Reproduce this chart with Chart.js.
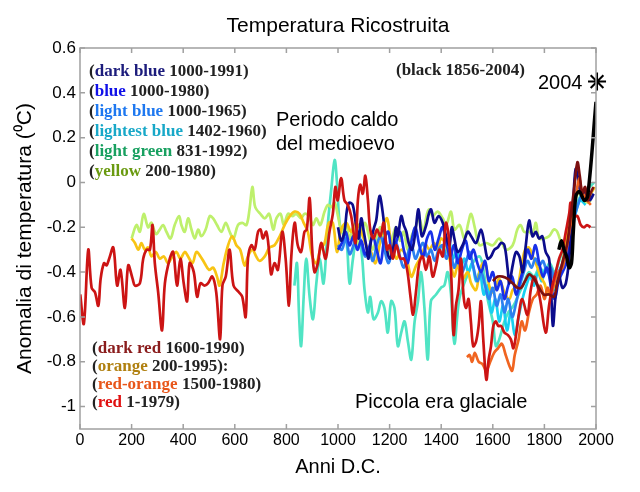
<!DOCTYPE html>
<html>
<head>
<meta charset="utf-8">
<title>Temperatura Ricostruita</title>
<script src="https://cdn.jsdelivr.net/npm/chart.js@4"></script>
<style>
  body { margin: 0; background: #fff; }
  #wrap { position: relative; width: 640px; height: 492px; }
  .lg { position: absolute; font: bold 17px "Liberation Serif", "Times New Roman", serif; color: #222; white-space: nowrap; line-height: 18px; }
  .note { position: absolute; font: 20px "Liberation Sans", Arial, sans-serif; color: #000; white-space: nowrap; line-height: 24px; }
  #title { position: absolute; left: 0; top: 13px; width: 676px; text-align: center; font: 21px "Liberation Sans", Arial, sans-serif; line-height: 24px; }
</style>
</head>
<body>
<div id="wrap">
  <canvas id="chart" width="640" height="492"></canvas>
  <div id="title">Temperatura Ricostruita</div>
</div>
<script>
// x ticks (years) and y ticks (anomaly)
const xTicks = [0, 200, 400, 600, 800, 1000, 1200, 1400, 1600, 1800, 2000];
const yTicks = [-1, -0.8, -0.6, -0.4, -0.2, 0, 0.2, 0.4, 0.6];

// [year, anomaly]
const red = [[1,-0.50],[15,-0.63],[32,-0.30],[45,-0.47],[58,-0.49],[71,-0.55],[80,-0.43],[93,-0.36],[103,-0.37],[113,-0.34],[129,-0.29],[144,-0.46],[157,-0.39],[174,-0.56],[187,-0.37],[204,-0.43],[213,-0.46],[232,-0.45],[245,-0.34],[258,-0.30],[271,-0.30],[281,-0.19],[290,-0.36],[303,-0.49],[318,-0.66],[329,-0.45],[348,-0.34],[361,-0.31],[376,-0.46],[389,-0.34],[402,-0.45],[415,-0.53],[425,-0.36],[441,-0.40],[454,-0.51],[467,-0.45],[483,-0.46],[496,-0.45],[513,-0.42],[528,-0.49],[543,-0.70],[552,-0.46],[565,-0.42],[580,-0.30],[595,-0.46],[616,-0.49],[629,-0.51],[642,-0.60],[651,-0.34],[664,-0.28],[677,-0.30],[690,-0.22],[700,-0.21],[709,-0.25],[722,-0.22],[733,-0.31],[741,-0.41],[754,-0.36],[767,-0.39],[784,-0.22],[797,-0.34],[810,-0.55],[819,-0.33],[832,-0.18],[844,-0.28],[857,-0.31],[870,-0.22],[879,-0.21],[890,-0.07],[900,-0.30],[909,-0.40],[922,-0.36],[935,-0.27],[952,-0.34],[967,-0.22],[980,-0.14],[990,-0.02],[999,-0.08],[1012,0.02],[1025,-0.08],[1038,-0.10],[1051,-0.15],[1068,-0.27],[1077,-0.08],[1086,-0.01],[1096,-0.05],[1106,0.03],[1116,-0.08],[1125,-0.21],[1138,-0.25],[1151,-0.21],[1164,-0.24],[1177,-0.18],[1190,-0.30],[1200,-0.28],[1213,-0.34],[1226,-0.28],[1242,-0.34],[1255,-0.34],[1268,-0.39],[1281,-0.51],[1291,-0.59],[1302,-0.49],[1315,-0.36],[1328,-0.33],[1341,-0.39],[1354,-0.33],[1367,-0.42],[1380,-0.37],[1393,-0.30],[1406,-0.33],[1418,-0.18],[1429,-0.24],[1439,-0.42],[1448,-0.68],[1457,-0.55],[1467,-0.48],[1477,-0.34],[1487,-0.51],[1496,-0.56],[1506,-0.52],[1515,-0.62],[1524,-0.73],[1535,-0.71],[1545,-0.64],[1554,-0.53],[1563,-0.70],[1575,-0.88],[1584,-0.79],[1593,-0.73],[1602,-0.64],[1612,-0.62],[1621,-0.64],[1632,-0.64],[1645,-0.67],[1658,-0.68],[1670,-0.70],[1680,-0.74],[1690,-0.68],[1702,-0.58],[1714,-0.52],[1734,-0.59],[1747,-0.48],[1760,-0.42],[1773,-0.46],[1786,-0.54],[1805,-0.67],[1818,-0.55],[1831,-0.46],[1844,-0.40],[1857,-0.34],[1870,-0.30],[1883,-0.22],[1896,-0.14],[1902,-0.09],[1915,-0.15],[1928,-0.15],[1941,-0.19],[1954,-0.20],[1965,-0.19],[1979,-0.20]];

const darkRed = [[1600,-0.44],[1619,-0.42],[1638,-0.42],[1658,-0.43],[1677,-0.45],[1696,-0.47],[1710,-0.47],[1725,-0.44],[1741,-0.41],[1760,-0.43],[1779,-0.47],[1798,-0.50],[1818,-0.50],[1837,-0.51],[1850,-0.45],[1863,-0.39],[1876,-0.33],[1889,-0.27],[1902,-0.15],[1915,-0.03],[1928,0.09],[1937,0.03],[1947,-0.05],[1958,-0.02],[1967,-0.08],[1978,-0.05],[1990,-0.02]];

const redOrange = [[1500,-0.78],[1510,-0.77],[1520,-0.80],[1530,-0.76],[1545,-0.80],[1560,-0.81],[1575,-0.84],[1590,-0.80],[1605,-0.76],[1620,-0.74],[1635,-0.72],[1650,-0.77],[1665,-0.82],[1675,-0.84],[1685,-0.77],[1700,-0.70],[1712,-0.62],[1725,-0.66],[1740,-0.58],[1755,-0.52],[1770,-0.50],[1785,-0.46],[1800,-0.52],[1812,-0.47],[1825,-0.50],[1840,-0.44],[1855,-0.40],[1870,-0.38],[1885,-0.30],[1900,-0.20],[1912,-0.12],[1925,-0.04],[1935,0.02],[1945,-0.04],[1955,-0.06],[1965,-0.08],[1980,-0.10]];

const orange = [[200,-0.25],[213,-0.27],[226,-0.30],[238,-0.27],[251,-0.30],[264,-0.29],[277,-0.33],[294,-0.31],[309,-0.34],[325,-0.33],[341,-0.36],[358,-0.33],[374,-0.31],[389,-0.34],[406,-0.31],[419,-0.33],[436,-0.36],[451,-0.31],[467,-0.33],[483,-0.36],[500,-0.39],[516,-0.38],[531,-0.42],[541,-0.46],[557,-0.36],[574,-0.28],[590,-0.24],[606,-0.28],[621,-0.30],[638,-0.37],[651,-0.33],[668,-0.30],[683,-0.33],[696,-0.35],[716,-0.33],[735,-0.29],[754,-0.28],[774,-0.24],[793,-0.19],[813,-0.15],[832,-0.13],[851,-0.14],[867,-0.18],[883,-0.22],[900,-0.33],[916,-0.36],[931,-0.30],[948,-0.27],[964,-0.18],[980,-0.18],[996,-0.31],[1012,-0.21],[1032,-0.18],[1051,-0.22],[1070,-0.18],[1090,-0.22],[1109,-0.28],[1128,-0.31],[1145,-0.36],[1161,-0.28],[1174,-0.21],[1190,-0.16],[1206,-0.27],[1226,-0.34],[1245,-0.30],[1264,-0.33],[1284,-0.42],[1303,-0.37],[1322,-0.33],[1341,-0.28],[1354,-0.30],[1373,-0.27],[1386,-0.30],[1399,-0.25],[1419,-0.28],[1438,-0.37],[1451,-0.42],[1464,-0.37],[1483,-0.43],[1503,-0.40],[1516,-0.45],[1535,-0.48],[1548,-0.40],[1561,-0.36],[1573,-0.37],[1586,-0.46],[1600,-0.49],[1612,-0.46],[1625,-0.43],[1645,-0.49],[1664,-0.52],[1677,-0.48],[1696,-0.46],[1710,-0.38],[1725,-0.30],[1740,-0.29],[1755,-0.33],[1770,-0.37],[1785,-0.42],[1800,-0.45],[1815,-0.50],[1830,-0.48],[1845,-0.44],[1860,-0.40],[1875,-0.33],[1890,-0.22],[1905,-0.12],[1920,-0.06],[1935,-0.02],[1950,-0.06],[1965,-0.08],[1980,-0.05],[1995,-0.02]];

const yellow = [[200,-0.25],[219,-0.19],[232,-0.22],[247,-0.14],[264,-0.20],[277,-0.18],[294,-0.23],[309,-0.21],[322,-0.19],[335,-0.22],[351,-0.25],[367,-0.19],[384,-0.15],[393,-0.19],[406,-0.22],[419,-0.16],[432,-0.21],[445,-0.25],[458,-0.21],[470,-0.24],[487,-0.21],[503,-0.15],[516,-0.16],[531,-0.19],[548,-0.22],[565,-0.18],[580,-0.22],[595,-0.25],[612,-0.19],[629,-0.18],[645,-0.19],[657,-0.12],[668,-0.02],[677,-0.10],[684,-0.12],[699,-0.14],[716,-0.16],[733,-0.14],[749,-0.21],[761,-0.16],[777,-0.14],[790,-0.19],[806,-0.14],[823,-0.15],[838,-0.14],[857,-0.16],[870,-0.14],[887,-0.15],[903,-0.19],[916,-0.16],[931,-0.19],[948,-0.13],[961,-0.10],[974,-0.11],[987,-0.09],[1000,-0.15],[1015,-0.22],[1030,-0.18],[1045,-0.25],[1060,-0.20],[1075,-0.28],[1090,-0.22],[1105,-0.18],[1120,-0.24],[1135,-0.30],[1150,-0.24],[1165,-0.20],[1180,-0.26],[1195,-0.32],[1210,-0.25],[1225,-0.20],[1240,-0.26],[1255,-0.22],[1270,-0.30],[1285,-0.24],[1300,-0.20],[1315,-0.16],[1330,-0.22],[1345,-0.14],[1354,-0.12],[1367,-0.15],[1386,-0.13],[1406,-0.16],[1419,-0.19],[1438,-0.13],[1451,-0.21],[1471,-0.19],[1490,-0.25],[1505,-0.18],[1516,-0.14],[1530,-0.20],[1548,-0.28],[1574,-0.27],[1600,-0.28],[1625,-0.25],[1651,-0.30],[1677,-0.28],[1695,-0.21],[1708,-0.19],[1721,-0.22],[1740,-0.22],[1754,-0.23],[1767,-0.18],[1779,-0.25],[1798,-0.25],[1818,-0.24],[1837,-0.21],[1850,-0.22],[1870,-0.28],[1883,-0.24],[1896,-0.19],[1910,-0.12],[1925,-0.06],[1940,-0.04],[1955,-0.08],[1967,-0.09],[1980,-0.08]];

const lightGreen = [[831,-0.46],[841,-0.36],[849,-0.59],[857,-0.73],[867,-0.51],[877,-0.34],[890,-0.51],[903,-0.61],[916,-0.45],[929,-0.34],[944,-0.45],[961,-0.18],[974,-0.03],[987,0.10],[996,0.0],[1006,-0.18],[1016,-0.22],[1032,-0.25],[1045,-0.45],[1058,-0.34],[1073,-0.24],[1090,-0.30],[1103,-0.48],[1116,-0.58],[1125,-0.51],[1138,-0.61],[1155,-0.58],[1167,-0.53],[1180,-0.56],[1193,-0.67],[1206,-0.53],[1219,-0.56],[1232,-0.73],[1245,-0.67],[1258,-0.62],[1271,-0.71],[1284,-0.79],[1297,-0.62],[1310,-0.53],[1322,-0.40],[1335,-0.56],[1348,-0.79],[1360,-0.53],[1380,-0.50],[1399,-0.47],[1412,-0.46],[1425,-0.40],[1438,-0.50],[1451,-0.72],[1470,-0.52],[1496,-0.43],[1522,-0.36],[1548,-0.33],[1561,-0.37],[1580,-0.52],[1600,-0.62],[1612,-0.73],[1625,-0.70],[1645,-0.62],[1660,-0.58],[1680,-0.55],[1700,-0.50],[1720,-0.45],[1740,-0.40],[1760,-0.42],[1780,-0.38],[1800,-0.40],[1820,-0.36],[1840,-0.40],[1860,-0.34],[1880,-0.28],[1900,-0.20],[1920,-0.12],[1940,-0.06],[1960,-0.04],[1975,-0.02],[1992,0.0]];

const darkBlue = [[1000,-0.20],[1012,-0.26],[1025,-0.22],[1035,-0.12],[1044,-0.09],[1057,-0.10],[1070,-0.19],[1080,-0.25],[1090,-0.16],[1100,-0.22],[1109,-0.28],[1118,-0.34],[1128,-0.26],[1140,-0.20],[1148,-0.17],[1161,-0.06],[1174,-0.14],[1187,-0.28],[1200,-0.34],[1213,-0.30],[1225,-0.20],[1232,-0.24],[1245,-0.15],[1255,-0.19],[1265,-0.22],[1274,-0.27],[1287,-0.30],[1300,-0.22],[1312,-0.12],[1325,-0.24],[1342,-0.19],[1352,-0.14],[1361,-0.12],[1374,-0.18],[1390,-0.15],[1406,-0.18],[1419,-0.24],[1432,-0.28],[1441,-0.20],[1451,-0.25],[1464,-0.31],[1483,-0.28],[1503,-0.22],[1516,-0.24],[1535,-0.27],[1554,-0.21],[1567,-0.27],[1580,-0.34],[1593,-0.33],[1606,-0.30],[1619,-0.29],[1632,-0.27],[1645,-0.28],[1658,-0.39],[1664,-0.45],[1677,-0.37],[1690,-0.31],[1703,-0.33],[1716,-0.40],[1728,-0.28],[1741,-0.17],[1754,-0.24],[1767,-0.22],[1779,-0.25],[1792,-0.24],[1805,-0.31],[1818,-0.34],[1825,-0.45],[1833,-0.64],[1844,-0.50],[1857,-0.42],[1870,-0.47],[1883,-0.45],[1896,-0.34],[1909,-0.15],[1921,0.06],[1934,0.0],[1947,-0.05],[1960,-0.04],[1975,-0.08],[1991,-0.05]];

const blue = [[1000,-0.30],[1015,-0.27],[1030,-0.22],[1045,-0.28],[1060,-0.24],[1075,-0.30],[1090,-0.26],[1105,-0.32],[1120,-0.29],[1135,-0.24],[1150,-0.30],[1165,-0.36],[1180,-0.25],[1195,-0.22],[1210,-0.33],[1225,-0.27],[1240,-0.22],[1255,-0.30],[1270,-0.36],[1285,-0.26],[1300,-0.20],[1315,-0.28],[1330,-0.33],[1345,-0.25],[1360,-0.22],[1375,-0.30],[1390,-0.25],[1405,-0.20],[1420,-0.27],[1435,-0.33],[1450,-0.28],[1465,-0.36],[1480,-0.30],[1495,-0.26],[1510,-0.34],[1525,-0.30],[1540,-0.36],[1555,-0.40],[1570,-0.35],[1585,-0.44],[1600,-0.40],[1615,-0.48],[1630,-0.44],[1645,-0.52],[1660,-0.46],[1675,-0.42],[1690,-0.50],[1705,-0.44],[1720,-0.38],[1735,-0.30],[1750,-0.34],[1765,-0.28],[1780,-0.36],[1795,-0.42],[1810,-0.38],[1825,-0.46],[1840,-0.52],[1855,-0.44],[1870,-0.40],[1885,-0.36],[1900,-0.22],[1915,-0.10],[1930,-0.02],[1945,-0.04],[1960,-0.08],[1980,-0.06]];

const lightBlue = [[1000,-0.28],[1015,-0.30],[1030,-0.25],[1045,-0.32],[1060,-0.28],[1075,-0.22],[1090,-0.27],[1105,-0.33],[1120,-0.30],[1135,-0.35],[1150,-0.28],[1165,-0.24],[1180,-0.30],[1195,-0.36],[1210,-0.31],[1225,-0.27],[1240,-0.33],[1255,-0.38],[1270,-0.32],[1285,-0.28],[1300,-0.34],[1315,-0.30],[1330,-0.27],[1345,-0.33],[1360,-0.30],[1375,-0.35],[1390,-0.30],[1405,-0.28],[1420,-0.34],[1435,-0.30],[1450,-0.38],[1465,-0.34],[1480,-0.40],[1495,-0.36],[1510,-0.31],[1525,-0.38],[1540,-0.44],[1555,-0.40],[1570,-0.46],[1585,-0.52],[1600,-0.47],[1615,-0.55],[1630,-0.50],[1645,-0.58],[1660,-0.52],[1675,-0.60],[1690,-0.54],[1705,-0.46],[1720,-0.40],[1735,-0.35],[1750,-0.38],[1765,-0.34],[1780,-0.37],[1795,-0.35],[1810,-0.40],[1825,-0.38],[1840,-0.44],[1855,-0.40],[1870,-0.36],[1885,-0.30],[1900,-0.24],[1915,-0.16],[1930,-0.10],[1945,-0.06],[1965,-0.08]];

const lightestBlue = [[1402,-0.28],[1415,-0.32],[1430,-0.26],[1445,-0.34],[1460,-0.30],[1475,-0.38],[1490,-0.34],[1505,-0.40],[1520,-0.36],[1535,-0.44],[1550,-0.40],[1565,-0.50],[1580,-0.46],[1595,-0.58],[1610,-0.52],[1625,-0.62],[1640,-0.55],[1655,-0.66],[1670,-0.58],[1685,-0.68],[1700,-0.60],[1715,-0.52],[1730,-0.46],[1745,-0.42],[1760,-0.46],[1775,-0.40],[1790,-0.44],[1805,-0.38],[1820,-0.42],[1835,-0.48],[1850,-0.44],[1865,-0.40],[1880,-0.36],[1895,-0.30],[1910,-0.20],[1925,-0.12],[1940,-0.08],[1960,-0.10]];

const black = [[1856,-0.30],[1866,-0.26],[1876,-0.30],[1886,-0.33],[1896,-0.38],[1905,-0.36],[1912,-0.22],[1922,-0.06],[1935,-0.04],[1945,-0.06],[1955,-0.08],[1968,-0.06],[2000,0.36]];
const star2004 = [[2004, 0.45]];

function series(pairs, color, label, width) {
  return {
    label: label,
    data: pairs.map(p => ({ x: p[0], y: p[1] })),
    borderColor: color,
    borderWidth: width || 2.7,
    pointRadius: 0,
    tension: 0.35,
    fill: false
  };
}

// first dataset ends up on top
const datasets = [
  series(black, '#000000', 'black 1856-2004', 3.5),
  series(darkRed, '#7c1010', 'dark red 1600-1990'),
  series(red, '#cc1414', 'red 1-1979'),
  series(redOrange, '#f06420', 'red-orange 1500-1980'),
  series(darkBlue, '#0c0c8c', 'dark blue 1000-1991'),
  series(blue, '#1830e8', 'blue 1000-1980'),
  series(lightBlue, '#2c80f0', 'light blue 1000-1965'),
  series(orange, '#f8c414', 'orange 200-1995'),
  series(yellow, '#bef06c', 'yellow 200-1980'),
  series(lightestBlue, '#18d0f0', 'lightest blue 1402-1960'),
  series(lightGreen, '#50e4c4', 'light green 831-1992')
];
datasets.splice(1, 0, {
  label: '2004',
  data: star2004.map(p => ({ x: p[0], y: p[1] })),
  showLine: false,
  pointStyle: 'star',
  pointRadius: 9,
  borderColor: '#000',
  borderWidth: 2,
  clip: false
});

// grey box with inward tick marks on all four sides
const framePlugin = {
  id: 'frame',
  afterDraw(chart) {
    const { ctx, chartArea: a, scales } = chart;
    ctx.save();
    ctx.strokeStyle = '#a0a0a0';
    ctx.lineWidth = 1.5;
    ctx.strokeRect(a.left, a.top, a.right - a.left, a.bottom - a.top);
    ctx.beginPath();
    xTicks.forEach(v => {
      const px = scales.x.getPixelForValue(v);
      ctx.moveTo(px, a.bottom); ctx.lineTo(px, a.bottom - 5);
      ctx.moveTo(px, a.top); ctx.lineTo(px, a.top + 5);
    });
    yTicks.forEach(v => {
      const py = scales.y.getPixelForValue(v);
      ctx.moveTo(a.left, py); ctx.lineTo(a.left + 5, py);
      ctx.moveTo(a.right, py); ctx.lineTo(a.right - 5, py);
    });
    ctx.stroke();
    ctx.restore();
  }
};

new Chart(document.getElementById('chart'), {
  type: 'line',
  data: { datasets },
  options: {
    responsive: false,
    animation: false,
    layout: { padding: { left: 0, right: 44, top: 48, bottom: 0 } },
    plugins: {
      legend: { display: false },
      tooltip: { enabled: false }
    },
    scales: {
      x: {
        type: 'linear',
        min: 0,
        max: 2000,
        afterFit: s => { s.height = 63; },
        afterBuildTicks: s => { s.ticks = xTicks.map(v => ({ value: v })); },
        grid: { display: false, drawTicks: false },
        border: { display: false },
        ticks: {
          color: '#000',
          padding: 2,
          maxRotation: 0,
          font: { family: '"Liberation Sans", Arial, sans-serif', size: 16 },
          callback: v => String(v)
        },
        title: {
          display: true,
          text: 'Anni D.C.',
          color: '#000',
          font: { family: '"Liberation Sans", Arial, sans-serif', size: 20 },
          padding: { top: 0, bottom: 13 }
        }
      },
      y: {
        min: -1.1,
        max: 0.6,
        afterFit: s => { s.width = 80; },
        afterBuildTicks: s => { s.ticks = yTicks.map(v => ({ value: v })); },
        grid: { display: false, drawTicks: false },
        border: { display: false },
        ticks: {
          color: '#000',
          padding: 4,
          font: { family: '"Liberation Sans", Arial, sans-serif', size: 17 },
          callback: v => String(Math.round(v * 10) / 10)
        },
        title: {
          display: true,
          text: 'Anomalia di temperatura (\u2070C)',
          color: '#000',
          font: { family: '"Liberation Sans", Arial, sans-serif', size: 21 },
          padding: { top: 13, bottom: 0 }
        }
      }
    }
  },
  plugins: [framePlugin]
});

// coloured source notes over the plot
const notesTop = [
  ['dark blue', '#1c1c7c', '1000-1991', ')'],
  ['blue', '#1010e8', '1000-1980', ')'],
  ['light blue', '#1e78f0', '1000-1965', ')'],
  ['lightest blue', '#18a8c8', '1402-1960', ')'],
  ['light green', '#18a060', '831-1992', ')'],
  ['yellow', '#6a9a10', '200-1980', ')']
];
const notesBottom = [
  ['dark red', '#8a1c1c', '1600-1990', ')'],
  ['orange', '#b08010', '200-1995', '):'],
  ['red-orange', '#e8561a', '1500-1980', ')'],
  ['red', '#e01010', '1-1979', ')']
];
const wrap = document.getElementById('wrap');
function addNote(item, left, top) {
  const d = document.createElement('div');
  d.className = 'lg';
  d.style.left = left + 'px';
  d.style.top = top + 'px';
  d.innerHTML = '(<span style="color:' + item[1] + '">' + item[0] + '</span> ' + item[2] + item[3];
  wrap.appendChild(d);
}
notesTop.forEach((n, i) => addNote(n, 89, 62 + i * 20));
notesBottom.forEach((n, i) => addNote(n, 92, 339 + i * 18));

function addText(text, cls, left, top) {
  const d = document.createElement('div');
  d.className = cls;
  d.style.left = left + 'px';
  d.style.top = top + 'px';
  d.innerHTML = text;
  wrap.appendChild(d);
}
addText('(black 1856-2004)', 'lg', 396, 61);
addText('Periodo caldo<br>del medioevo', 'note', 276, 107);
addText('Piccola era glaciale', 'note', 355, 389);
addText('2004', 'note', 538, 70);
</script>
</body>
</html>
